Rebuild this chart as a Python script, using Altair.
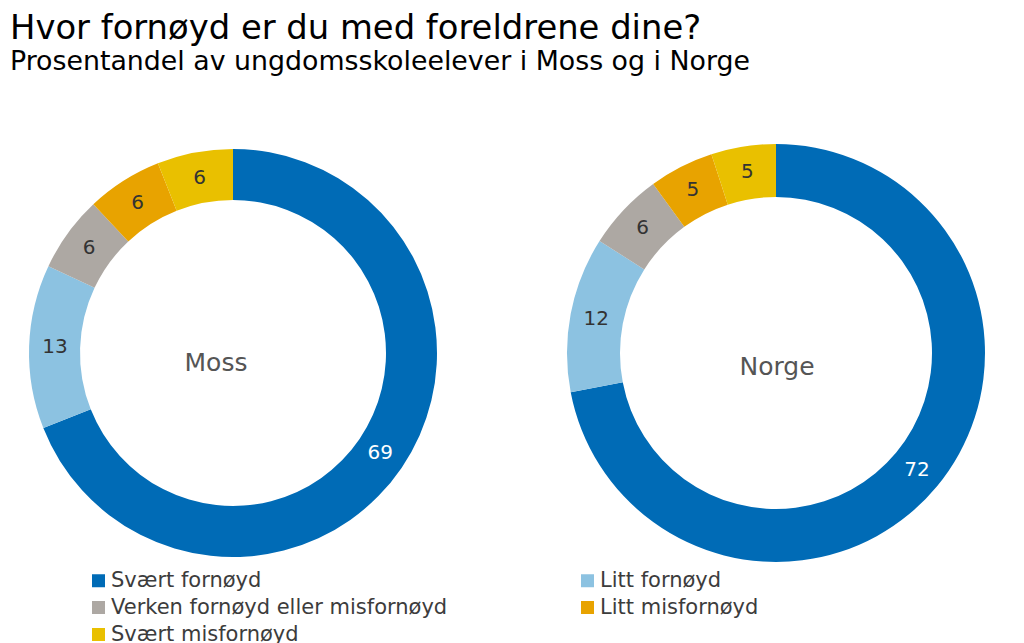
import altair as alt
import pandas as pd

categories = ["Svært fornøyd", "Litt fornøyd", "Verken fornøyd eller misfornøyd",
              "Litt misfornøyd", "Svært misfornøyd"]
colors = ["#006BB6", "#8CC2E1", "#ADA8A3", "#E8A300", "#E9C000"]
moss_values = [69, 13, 6, 6, 6]
norge_values = [72, 12, 6, 5, 5]
places = ["Moss", "Norge"]
# legend reading order (two columns, filled column by column)
legend_order = ["Svært fornøyd", "Verken fornøyd eller misfornøyd", "Svært misfornøyd",
                "Litt fornøyd", "Litt misfornøyd"]

rows = []
for place, vals in zip(places, [moss_values, norge_values]):
    for i, (c, v) in enumerate(zip(categories, vals)):
        rows.append({"place": place, "category": c, "value": v, "idx": i})
df = pd.DataFrame(rows)

FONT = "DejaVu Sans"
W, H = 450, 440

color_scale = alt.Scale(domain=legend_order,
                        range=[colors[categories.index(c)] for c in legend_order])


def donut(place, outer, inner, label_r, dx, dy):
    base = alt.Chart(df).transform_filter(alt.datum.place == place)
    arcs = base.mark_arc(outerRadius=outer, innerRadius=inner, stroke=None).encode(
        theta=alt.Theta("value:Q", stack=True),
        color=alt.Color("category:N", scale=color_scale, sort=legend_order,
                        legend=alt.Legend(
                            title=None, orient="none", legendX=80, legendY=437,
                            columns=2, columnPadding=129, rowPadding=5,
                            symbolType="square", symbolSize=169,
                            symbolStrokeWidth=0, symbolOpacity=1,
                            labelFont=FONT, labelFontSize=21,
                            labelColor="#3c3c3c", labelLimit=500,
                            labelOffset=2, padding=0)),
        order=alt.Order("idx:Q"),
    )
    labels = base.mark_text(radius=label_r, font=FONT, fontSize=20).encode(
        theta=alt.Theta("value:Q", stack=True),
        order=alt.Order("idx:Q"),
        text=alt.Text("value:Q"),
        color=alt.condition(alt.datum.idx == 0, alt.value("white"), alt.value("#333333")),
    )
    center = base.transform_filter(alt.datum.idx == 0).mark_text(
        font=FONT, fontSize=25, color="#555555", dx=dx, dy=dy
    ).encode(
        x=alt.value(W / 2), y=alt.value(H / 2), text=alt.Text("place:N")
    )
    return alt.layer(arcs, labels, center).properties(width=W, height=H)


chart = alt.hconcat(
    donut("Moss", 204, 153, 178, -17, 10),
    donut("Norge", 209, 156, 183, 1, 14),
    spacing=93,
).properties(
    title=alt.TitleParams(
        text="Hvor fornøyd er du med foreldrene dine?",
        subtitle="Prosentandel av ungdomsskoleelever i Moss og i Norge",
        anchor="start", font=FONT, fontSize=33.8, fontWeight="normal",
        color="#000000", subtitleFont=FONT, subtitleFontSize=26.8,
        subtitleColor="#000000", subtitlePadding=3, offset=57, dx=2,
    ),
    padding={"top": 4, "left": 0, "right": 0, "bottom": 0},
).configure(background="white").configure_view(stroke=None, strokeWidth=0)

chart.save("out.html", embed_options={"renderer": "svg", "actions": False})
